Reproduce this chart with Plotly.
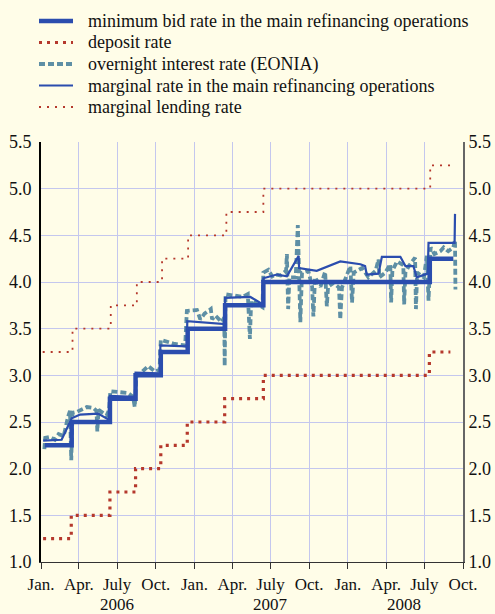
import plotly.graph_objects as go

# ---------------- data ----------------
min_bid_dates = ['2006-01-10', '2006-03-15', '2006-06-14', '2006-08-14', '2006-10-13',
                 '2006-12-16', '2007-03-15', '2007-06-14', '2008-07-14', '2008-09-08']
min_bid_rate = [2.25, 2.50, 2.75, 3.00, 3.25, 3.50, 3.75, 4.00, 4.25, 4.25]

deposit_dates = ['2006-01-06', '2006-03-14', '2006-06-14', '2006-08-14', '2006-10-13',
                 '2006-12-15', '2007-03-14', '2007-06-14', '2008-07-13', '2008-09-01']
deposit_rate = [1.25, 1.50, 1.75, 2.00, 2.25, 2.50, 2.75, 3.00, 3.25, 3.25]

lending_dates = ['2006-01-05', '2006-03-17', '2006-06-16', '2006-08-17', '2006-10-16',
                 '2006-12-17', '2007-03-18', '2007-06-14', '2008-07-15', '2008-09-13']
lending_rate = [3.25, 3.50, 3.75, 4.00, 4.25, 4.50, 4.75, 5.00, 5.25, 5.25]

marginal_dates = ['2006-01-06', '2006-02-19', '2006-03-15', '2006-04-04', '2006-05-17',
                  '2006-06-13', '2006-06-14', '2006-08-13', '2006-08-14', '2006-10-11',
                  '2006-10-12', '2006-12-14', '2006-12-15', '2007-03-14', '2007-03-15',
                  '2007-05-14', '2007-06-13', '2007-06-14', '2007-07-16', '2007-08-09',
                  '2007-09-06', '2007-09-07', '2007-10-19', '2007-12-14', '2008-01-31',
                  '2008-02-11', '2008-02-15', '2008-03-14', '2008-03-22', '2008-05-05',
                  '2008-05-17', '2008-06-05', '2008-06-13', '2008-07-09', '2008-07-11',
                  '2008-09-11', '2008-09-12']
marginal_rate = [2.30, 2.31, 2.54, 2.58, 2.59,
                 2.52, 2.78, 2.77, 3.03, 3.02,
                 3.32, 3.31, 3.58, 3.55, 3.83,
                 3.84, 3.76, 4.04, 4.08, 4.06,
                 4.28, 4.15, 4.12, 4.22, 4.19,
                 4.17, 4.08, 4.09, 4.27, 4.27,
                 4.17, 4.17, 4.05, 4.09, 4.42,
                 4.42, 4.73]

eonia_dates = ['2006-01-09', '2006-01-11', '2006-01-22', '2006-02-03', '2006-02-12',
               '2006-02-24', '2006-03-06', '2006-03-11', '2006-03-14', '2006-03-17',
               '2006-03-28', '2006-04-12', '2006-04-20', '2006-05-06', '2006-05-13',
               '2006-05-15', '2006-05-18', '2006-06-06', '2006-06-12', '2006-06-15',
               '2006-07-12', '2006-07-27', '2006-08-08', '2006-08-12', '2006-08-16',
               '2006-08-28', '2006-09-13', '2006-09-29', '2006-10-10', '2006-10-13',
               '2006-11-12', '2006-12-10', '2006-12-14', '2007-01-07', '2007-01-15',
               '2007-01-25', '2007-02-09', '2007-02-12', '2007-02-20', '2007-03-07',
               '2007-03-13', '2007-03-14', '2007-03-16', '2007-04-12', '2007-04-25',
               '2007-05-08', '2007-05-13', '2007-05-16', '2007-06-06', '2007-06-12',
               '2007-06-14', '2007-06-26', '2007-07-05', '2007-07-12', '2007-07-25',
               '2007-08-07', '2007-08-09', '2007-08-12', '2007-08-15', '2007-08-30',
               '2007-09-04', '2007-09-10', '2007-09-14', '2007-09-29', '2007-10-08',
               '2007-10-11', '2007-10-15', '2007-10-28', '2007-11-08', '2007-11-12',
               '2007-11-15', '2007-11-28', '2007-12-11', '2007-12-14', '2007-12-18',
               '2008-01-07', '2008-01-11', '2008-01-15', '2008-02-04', '2008-02-19',
               '2008-03-07', '2008-03-14', '2008-03-16', '2008-03-30', '2008-04-11',
               '2008-04-13', '2008-04-16', '2008-04-27', '2008-05-12', '2008-05-14',
               '2008-05-17', '2008-05-25', '2008-06-09', '2008-06-11', '2008-06-14',
               '2008-06-30', '2008-07-07', '2008-07-11', '2008-07-16', '2008-07-25',
               '2008-08-08', '2008-08-16', '2008-08-27', '2008-09-08', '2008-09-12',
               '2008-09-13']
eonia_rate = [2.21, 2.33, 2.34, 2.31, 2.37,
              2.35, 2.55, 2.62, 2.09, 2.60,
              2.61, 2.64, 2.66, 2.65, 2.62,
              2.40, 2.63, 2.57, 2.63, 2.83,
              2.82, 2.81, 2.77, 2.66, 2.99,
              3.03, 3.10, 3.04, 3.06, 3.38,
              3.34, 3.32, 3.69, 3.70, 3.60,
              3.66, 3.71, 3.60, 3.64, 3.57,
              3.62, 3.10, 3.87, 3.85, 3.84,
              3.87, 3.39, 3.80, 3.74, 3.73,
              4.10, 4.13, 4.06, 4.08, 4.07,
              4.12, 4.30, 3.71, 4.05, 4.05,
              4.61, 3.57, 4.10, 4.12, 3.95,
              3.63, 4.05, 3.95, 4.11, 3.74,
              3.95, 3.99, 3.94, 3.60, 3.94,
              4.17, 3.78, 4.10, 4.15, 4.05,
              4.12, 4.24, 4.05, 4.10, 4.19,
              3.78, 4.12, 4.22, 4.18, 3.76,
              4.10, 4.17, 4.26, 3.71, 4.10,
              4.05, 4.28, 3.80, 4.37, 4.30,
              4.33, 4.37, 4.33, 4.37, 4.45,
              3.92]

tick_dates = ['2006-01-01', '2006-04-01', '2006-07-01', '2006-10-01',
              '2007-01-01', '2007-04-01', '2007-07-01', '2007-10-01',
              '2008-01-01', '2008-04-01', '2008-07-01', '2008-10-01']
tick_labels = ['Jan.', 'Apr.', 'July', 'Oct.'] * 3
year_labels = ['2006', '2007', '2008']
year_label_dates = ['2006-07-01', '2007-07-01', '2008-05-14']
y_ticks = [1.0, 1.5, 2.0, 2.5, 3.0, 3.5, 4.0, 4.5, 5.0, 5.5]

legend_names = ['minimum bid rate in the main refinancing operations',
                'deposit rate',
                'overnight interest rate (EONIA)',
                'marginal rate in the main refinancing operations',
                'marginal lending rate']

# ---------------- styles ----------------
BG = '#FFFDE8'
GRID = '#C4C7EE'
BLUE = '#2B4DAE'
TEAL = '#5E8FA5'
RED = '#B5382C'
FONT = 'Liberation Serif, Times New Roman, Times, serif'
TXT = '#111111'

styles = [
    dict(color=BLUE, width=4.5, dash='solid'),
    dict(color=RED, width=3.2, dash='3px,5px'),
    dict(color=TEAL, width=3.8, dash='6px,3px'),
    dict(color=BLUE, width=2.2, dash='solid'),
    dict(color=RED, width=1.8, dash='2px,6px'),
]

fig = go.Figure()
fig.add_trace(go.Scatter(x=deposit_dates, y=deposit_rate, mode='lines', line_shape='hv',
                         line=styles[1], name=legend_names[1], showlegend=False))
fig.add_trace(go.Scatter(x=lending_dates, y=lending_rate, mode='lines', line_shape='hv',
                         line=styles[4], name=legend_names[4], showlegend=False))
fig.add_trace(go.Scatter(x=eonia_dates, y=eonia_rate, mode='lines',
                         line=styles[2], name=legend_names[2], showlegend=False))
fig.add_trace(go.Scatter(x=min_bid_dates, y=min_bid_rate, mode='lines', line_shape='hv',
                         line=styles[0], name=legend_names[0], showlegend=False))
fig.add_trace(go.Scatter(x=marginal_dates, y=marginal_rate, mode='lines',
                         line=styles[3], name=legend_names[3], showlegend=False))
# invisible trace to activate the right-hand axis
fig.add_trace(go.Scatter(x=[tick_dates[0]], y=[y_ticks[0]], yaxis='y2', mode='lines',
                         showlegend=False, hoverinfo='skip', opacity=0))

# ---------------- legend drawn at top ----------------
L, R, T, B = 41, 32, 142, 52
W, H = 495, 614
pw, ph = W - L - R, H - T - B

def px_x(px):
    return (px - L) / pw

def px_y(py):
    return (H - B - py) / ph

legend_rows = [21, 42.5, 64, 85.5, 107]
shapes = []
annotations = []
for name, st, yy in zip(legend_names, styles, legend_rows):
    shapes.append(dict(type='line', xref='paper', yref='paper',
                       x0=px_x(39), x1=px_x(73), y0=px_y(yy), y1=px_y(yy),
                       line=dict(color=st['color'], width=st['width'], dash=st['dash'])))
    annotations.append(dict(text=name, xref='paper', yref='paper', x=px_x(86), y=px_y(yy),
                            xanchor='left', yanchor='middle', showarrow=False,
                            font=dict(family=FONT, size=18, color=TXT)))

for lab, d in zip(year_labels, year_label_dates):
    annotations.append(dict(text=lab, xref='x', yref='paper', x=d, y=px_y(604.3),
                            xanchor='center', yanchor='middle', showarrow=False,
                            font=dict(family=FONT, size=17, color=TXT)))

fig.update_layout(
    width=W, height=H,
    margin=dict(l=L, r=R, t=T, b=B, autoexpand=False),
    paper_bgcolor=BG, plot_bgcolor=BG,
    font=dict(family=FONT, size=18, color=TXT),
    showlegend=False,
    shapes=shapes,
    annotations=annotations,
    xaxis=dict(type='date', range=['2006-01-01', '2008-10-01'],
               tickmode='array', tickvals=tick_dates, ticktext=tick_labels,
               tickfont=dict(family=FONT, size=17, color=TXT),
               showgrid=True, gridcolor=GRID, gridwidth=1,
               showline=True, linecolor='#333333', linewidth=1.2,
               ticks='outside', ticklen=6, tickcolor='#333333', tickwidth=1.2,
               ticklabelstandoff=0, automargin=False,
               zeroline=False),
    yaxis=dict(range=[1.0, 5.5], tickmode='array', tickvals=y_ticks, tickformat='.1f',
               showgrid=True, gridcolor=GRID, gridwidth=1,
               showline=True, linecolor='#000000', linewidth=2,
               ticks='', zeroline=False, ticklabelstandoff=4, automargin=False),
    yaxis2=dict(range=[1.0, 5.5], tickmode='array', tickvals=y_ticks, tickformat='.1f',
                overlaying='y', side='right', showgrid=False,
                showline=True, linecolor='#666666', linewidth=2,
                ticks='', zeroline=False, ticklabelstandoff=0, automargin=False),
)

fig.write_html('out.html',
               config={'displayModeBar': False},
               post_script="document.body.style.margin='0';"
                           "document.body.style.background='#FFFDE8';"
                           "document.body.style.overflow='hidden';")
